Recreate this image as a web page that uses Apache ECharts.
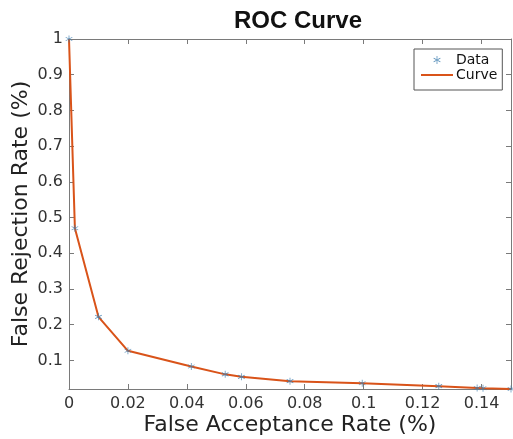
<!DOCTYPE html>
<html>
<head>
<meta charset="utf-8">
<script src="https://cdn.jsdelivr.net/npm/echarts@6/dist/echarts.min.js"></script>
<style>
  html, body { margin: 0; padding: 0; background: #fff; }
  #chart { width: 513px; height: 439px; }
</style>
</head>
<body>
<div id="chart"></div>
<script>
// ROC data
const falseAcceptance = [0, 0.002, 0.01, 0.02, 0.0415, 0.053, 0.0585, 0.075, 0.0995, 0.1255, 0.1385, 0.1405, 0.15];
const falseRejection = [1.0, 0.47, 0.222, 0.127, 0.083, 0.061, 0.054, 0.042, 0.036, 0.028, 0.023, 0.022, 0.02];

const xTicks = [0, 0.02, 0.04, 0.06, 0.08, 0.1, 0.12, 0.14];
const yTicks = [0.1, 0.2, 0.3, 0.4, 0.5, 0.6, 0.7, 0.8, 0.9, 1];

const points = falseAcceptance.map((x, i) => [x, falseRejection[i]]);

// matlab-like asterisk marker
const starBody =
  "M4.5 0L5.5 0L5.5 10L4.5 10Z" +
  "M9.58 7.07L9.08 7.93L0.42 2.93L0.92 2.07Z" +
  "M0.42 7.07L0.92 7.93L9.58 2.93L9.08 2.07Z";
const star = "path://" + starBody;
// same star with tiny corner dots so the legend draws it smaller
const legendStar = "path://" + starBody + "M-4 -4L-3.99 -4L-3.99 -3.99Z M14 14L13.99 14L13.99 13.99Z";

const font = "DejaVu Sans";
const axisColor = "#7a7a7a";

const chart = echarts.init(document.getElementById("chart"));

const boxAxis = (extra) =>
  Object.assign(
    {
      type: "value",
      axisLine: { show: true, onZero: false, lineStyle: { color: axisColor, width: 1 } },
      splitLine: { show: false },
    },
    extra
  );

const ticks = (vals) => ({
  show: true,
  inside: true,
  length: 5,
  lineStyle: { color: axisColor },
  customValues: vals,
});

chart.setOption({
  animation: false,
  textStyle: { fontFamily: font },
  title: {
    text: "ROC Curve",
    left: 293,
    textAlign: "center",
    top: 4,
    textStyle: { fontFamily: "Liberation Sans", fontSize: 24, fontWeight: "bold", color: "#111" },
  },
  legend: {
    orient: "vertical",
    left: 414,
    top: 49,
    padding: [4, 5, 8, 6],
    itemGap: 1,
    itemWidth: 32,
    itemHeight: 14,
    borderColor: "#555",
    borderWidth: 1,
    backgroundColor: "#fff",
    textStyle: { fontFamily: font, fontSize: 14, color: "#111", padding: [0, 0, 0, -2] },
    data: [
      { name: "Data", icon: legendStar, itemStyle: { color: "#3f7fb0" } },
      { name: "Curve", itemStyle: { opacity: 0 } },
    ],
  },
  grid: { left: 69, right: 2, top: 39, bottom: 50, outerBoundsMode: "none" },
  xAxis: [
    boxAxis({
      position: "bottom",
      min: 0,
      max: 0.15,
      name: "False Acceptance Rate (%)",
      nameLocation: "middle",
      nameGap: 25,
      nameMoveOverlap: false,
      nameTextStyle: { fontFamily: font, fontSize: 22, color: "#222" },
      axisTick: ticks(xTicks),
      axisLabel: { customValues: xTicks, fontSize: 16, color: "#333", margin: 7, fontFamily: font },
    }),
    boxAxis({
      position: "top",
      min: 0,
      max: 0.15,
      axisTick: ticks(xTicks),
      axisLabel: { show: false },
    }),
  ],
  yAxis: [
    boxAxis({
      position: "left",
      min: 0.02,
      max: 1,
      name: "False Rejection Rate (%)",
      nameLocation: "middle",
      nameGap: 37,
      nameMoveOverlap: false,
      nameTextStyle: { fontFamily: font, fontSize: 22, color: "#222" },
      axisTick: ticks(yTicks),
      axisLabel: { customValues: yTicks, fontSize: 16, color: "#333", margin: 6, fontFamily: font },
    }),
    boxAxis({
      position: "right",
      min: 0.02,
      max: 1,
      axisTick: ticks(yTicks),
      axisLabel: { show: false },
    }),
  ],
  series: [
    {
      name: "Curve",
      type: "line",
      data: points,
      symbol: "none",
      lineStyle: { color: "#d95319", width: 2 },
      itemStyle: { color: "#d95319" },
      z: 2,
    },
    {
      name: "Data",
      type: "scatter",
      data: points,
      symbol: star,
      symbolSize: 7,
      itemStyle: { color: "#3f7fb0", opacity: 0.85 },
      z: 3,
    },
  ],
});
</script>
</body>
</html>
